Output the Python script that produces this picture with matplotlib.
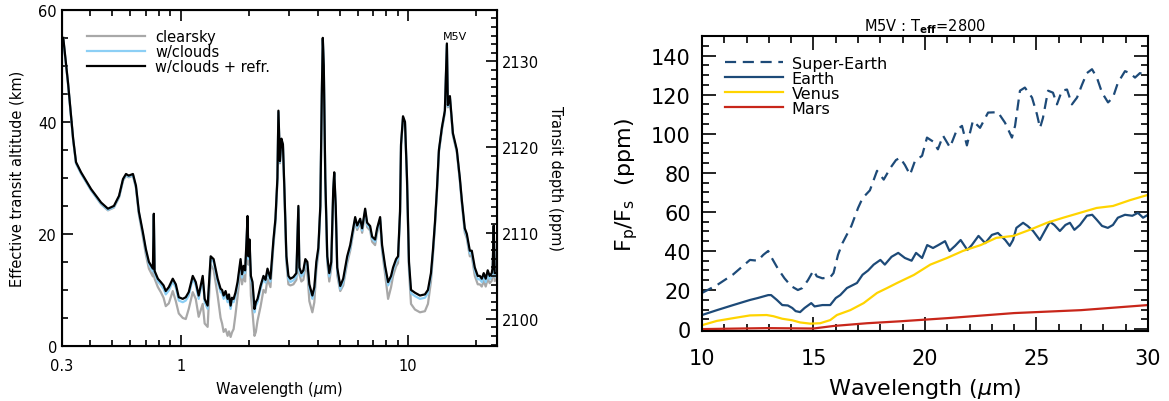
import matplotlib.pyplot as plt
from matplotlib.ticker import MultipleLocator, FixedLocator, FixedFormatter, NullFormatter

plt.rcParams['font.family'] = 'DejaVu Sans'
plt.rcParams['mathtext.fontset'] = 'dejavusans'

# ---- left panel: effective transit altitude (km) vs wavelength (um)
wl_um = [0.304, 0.319, 0.336, 0.346, 0.364, 0.403, 0.446, 0.478, 0.508, 0.535,
         0.557, 0.574, 0.590, 0.616, 0.635, 0.654, 0.681, 0.702, 0.724, 0.754,
         0.761, 0.767, 0.793, 0.817, 0.840, 0.859, 0.886, 0.922, 0.951, 0.980,
         1.020, 1.052, 1.084, 1.129, 1.164, 1.199, 1.249, 1.274, 1.313, 1.354,
         1.395, 1.453, 1.497, 1.520, 1.544, 1.575, 1.607, 1.630, 1.657, 1.680,
         1.708, 1.740, 1.778, 1.833, 1.860, 1.889, 1.920, 1.948, 1.967, 1.985,
         2.007, 2.035, 2.069, 2.111, 2.140, 2.177, 2.244, 2.312, 2.360, 2.408,
         2.481, 2.558, 2.610, 2.663, 2.690, 2.731, 2.773, 2.816, 2.858, 2.917,
         2.977, 3.038, 3.131, 3.227, 3.293, 3.326, 3.394, 3.463, 3.534, 3.606,
         3.680, 3.794, 3.871, 3.950, 4.031, 4.113, 4.176, 4.217, 4.260, 4.325,
         4.413, 4.503, 4.595, 4.689, 4.736, 4.808, 4.882, 5.033, 5.187, 5.293,
         5.401, 5.568, 5.682, 5.855, 5.975, 6.159, 6.284, 6.478, 6.611, 6.814,
         6.953, 7.167, 7.313, 7.539, 7.691, 7.929, 8.173, 8.424, 8.597, 8.862,
         9.042, 9.225, 9.318, 9.508, 9.701, 9.899, 10.10, 10.31, 10.73, 11.29,
         11.87, 12.24, 12.62, 12.87, 13.14, 13.41, 13.68, 14.10, 14.53, 14.83,
         14.98, 15.29, 15.76, 16.40, 16.91, 17.26, 17.78, 18.15, 18.71, 19.09,
         19.68, 20.28, 20.70, 21.12, 21.54, 21.98, 22.43, 22.89, 23.36, 23.59,
         23.83, 24.07, 24.57]

alt_refr = [55.0, 47.0, 37.0, 32.8, 31.0, 28.0, 25.6, 24.5, 25.0, 26.8,
            29.8, 30.7, 30.4, 30.7, 28.6, 24.0, 20.3, 17.3, 15.0, 13.8,
            23.6, 13.4, 12.0, 11.4, 10.8, 9.8, 10.5, 12.0, 11.0, 8.7,
            8.4, 8.7, 9.6, 12.5, 11.4, 9.0, 12.5, 8.4, 7.2, 16.0,
            15.5, 12.0, 10.2, 10.0, 9.0, 9.8, 8.4, 9.2, 7.2, 8.6,
            8.4, 9.5, 11.4, 15.5, 12.8, 14.3, 13.5, 19.0, 23.2, 16.0,
            19.0, 12.5, 11.4, 6.6, 7.8, 8.4, 10.7, 12.5, 11.8, 13.8,
            12.0, 19.0, 22.7, 30.0, 42.0, 33.0, 37.0, 36.0, 28.0, 16.0,
            12.5, 12.0, 12.3, 13.0, 25.0, 14.0, 13.0, 13.5, 15.5, 15.0,
            11.0, 9.0, 10.5, 15.0, 17.5, 25.0, 45.0, 55.0, 50.0, 30.0,
            16.0, 13.0, 15.0, 28.0, 31.0, 25.0, 14.0, 10.7, 12.0, 14.0,
            16.0, 18.0, 20.0, 23.0, 21.5, 22.7, 21.0, 24.5, 22.0, 21.4,
            19.5, 19.0, 21.0, 23.0, 18.0, 14.3, 11.4, 12.5, 14.0, 15.5,
            16.0, 24.0, 36.0, 41.0, 40.0, 30.0, 15.0, 10.0, 9.5, 9.0,
            9.2, 10.0, 13.0, 17.0, 22.0, 28.0, 35.0, 39.0, 42.0, 54.0,
            43.0, 44.6, 38.0, 35.0, 30.0, 26.0, 21.0, 20.0, 17.0, 17.0,
            14.0, 12.5, 12.5, 12.0, 13.0, 12.0, 13.5, 12.5, 13.0, 14.0,
            21.5, 13.0, 13.0]

alt_clouds = [54.8, 46.8, 36.8, 32.6, 30.8, 27.8, 25.4, 24.3, 24.8, 26.6,
              29.6, 30.5, 30.2, 30.5, 28.4, 23.8, 20.0, 17.0, 14.6, 13.3,
              23.4, 13.0, 11.5, 10.9, 10.2, 9.2, 9.9, 11.5, 10.4, 8.1,
              7.8, 8.1, 9.0, 12.0, 10.8, 8.4, 11.9, 7.8, 6.6, 15.6,
              15.0, 11.4, 9.6, 9.4, 8.4, 9.2, 7.8, 8.6, 6.6, 8.0,
              7.8, 8.9, 10.8, 15.0, 12.2, 13.8, 13.0, 18.6, 22.9, 15.5,
              18.6, 11.9, 10.8, 6.0, 7.2, 7.8, 10.1, 12.0, 11.3, 13.3,
              11.5, 18.6, 22.4, 29.7, 41.8, 32.8, 36.8, 35.8, 27.7, 15.5,
              11.9, 11.4, 11.7, 12.4, 24.7, 13.5, 12.4, 12.9, 15.0, 14.4,
              10.4, 8.4, 9.9, 14.5, 17.0, 24.7, 44.8, 54.8, 49.8, 29.7,
              15.5, 12.4, 14.5, 27.7, 30.8, 24.7, 13.5, 10.1, 11.4, 13.5,
              15.5, 17.5, 19.6, 22.7, 21.1, 22.4, 20.6, 24.2, 21.6, 21.0,
              19.1, 18.6, 20.6, 22.7, 17.5, 13.8, 10.8, 12.0, 13.5, 15.0,
              15.5, 23.7, 35.8, 40.8, 39.8, 29.7, 14.5, 9.4, 8.9, 8.4,
              8.6, 9.4, 12.5, 16.6, 21.7, 27.7, 34.8, 38.8, 41.8, 53.8,
              42.8, 44.4, 37.8, 34.8, 29.7, 25.7, 20.6, 19.6, 16.5, 16.5,
              13.4, 11.9, 11.9, 11.4, 12.4, 11.4, 12.9, 11.9, 12.4, 13.4,
              21.2, 12.4, 12.4]

alt_clear = [54.8, 46.8, 36.8, 32.6, 30.8, 27.8, 25.3, 24.2, 24.7, 26.5,
             29.5, 30.4, 30.1, 30.4, 28.2, 23.5, 19.5, 16.3, 13.8, 12.4,
             23.2, 12.0, 10.5, 9.6, 8.6, 7.1, 7.6, 9.8, 8.0, 5.8,
             5.0, 4.8, 6.6, 9.6, 8.4, 5.2, 7.5, 4.0, 3.4, 14.5,
             13.6, 9.0, 5.0, 4.0, 2.5, 3.0, 1.8, 2.6, 1.6, 2.4,
             3.0, 5.5, 8.8, 13.8, 11.0, 12.5, 11.5, 18.0, 22.5, 14.5,
             17.8, 9.0, 6.0, 1.8, 2.5, 4.5, 7.0, 10.0, 9.5, 12.0,
             10.5, 18.0, 22.0, 29.5, 41.7, 32.6, 36.6, 35.6, 27.4, 14.8,
             11.0, 10.8, 11.0, 11.8, 24.4, 12.8, 11.5, 11.8, 14.0, 13.2,
             8.0, 6.0, 7.8, 13.5, 16.5, 24.4, 44.7, 54.7, 49.7, 29.5,
             14.8, 11.5, 13.8, 27.4, 30.6, 24.4, 12.6, 9.8, 10.8, 12.8,
             14.8, 17.0, 19.1, 22.3, 20.7, 22.0, 20.2, 23.8, 21.2, 20.6,
             18.6, 18.0, 20.2, 22.3, 17.0, 12.8, 8.4, 10.5, 12.5, 14.2,
             14.8, 23.4, 35.6, 40.6, 39.6, 29.4, 13.5, 7.5, 6.5, 6.0,
             6.2, 7.5, 11.5, 16.0, 21.3, 27.5, 34.6, 38.6, 41.6, 53.7,
             42.6, 44.2, 37.6, 34.6, 29.5, 25.4, 20.2, 19.2, 16.0, 16.0,
             12.5, 11.0, 11.0, 10.6, 11.6, 10.6, 12.0, 11.2, 11.6, 12.6,
             21.0, 11.6, 11.8]

# ---- right panel: Fp/Fs (ppm) vs wavelength (um)
superearth_wl = [10.0, 10.67, 11.4, 12.15, 12.5, 12.75, 12.97, 13.1, 13.4, 13.7,
                 14.0, 14.3, 14.5, 14.75, 15.0, 15.15, 15.4, 15.75, 15.9, 16.1,
                 16.3, 16.7, 17.0, 17.2, 17.53, 17.85, 18.15, 18.45, 18.7, 18.88,
                 19.1, 19.33, 19.55, 19.87, 20.09, 20.36, 20.58, 20.81, 21.12, 21.43,
                 21.66, 21.88, 22.15, 22.47, 22.83, 23.27, 23.59, 23.9, 24.04, 24.26,
                 24.48, 24.8, 25.02, 25.16, 25.29, 25.52, 25.74, 25.92, 26.14, 26.37,
                 26.59, 26.82, 27.04, 27.26, 27.49, 27.71, 27.94, 28.21, 28.43, 28.65,
                 28.97, 29.19, 29.42, 29.64, 30.0]
superearth_ppm = [18.5, 22.5, 28.0, 35.4, 35.0, 38.0, 40.0, 37.0, 31.0, 26.0,
                  22.0, 20.0, 21.0, 25.0, 30.0, 27.0, 26.0, 26.5, 28.7, 38.0,
                  44.0, 52.8, 62.0, 67.0, 71.0, 81.0, 76.5, 82.5, 86.5, 87.7,
                  84.0, 79.0, 86.0, 88.7, 98.0, 96.0, 92.0, 99.0, 93.0, 102.0,
                  104.0, 94.0, 106.6, 103.0, 110.8, 111.0, 105.6, 98.0, 104.0, 122.0,
                  123.6, 118.5, 110.0, 103.0, 108.0, 122.0, 121.0, 115.0, 122.0, 122.6,
                  115.0, 118.5, 125.0, 131.0, 133.0, 128.7, 121.0, 116.0, 118.5, 126.0,
                  132.0, 131.0, 128.7, 131.0, 129.7]

earth_wl = [10.0, 10.67, 11.4, 12.15, 12.5, 12.97, 13.1, 13.35, 13.6, 13.85,
            14.05, 14.2, 14.4, 14.6, 14.9, 15.05, 15.4, 15.75, 16.0, 16.2,
            16.5, 16.95, 17.2, 17.45, 17.7, 18.0, 18.2, 18.5, 18.8, 19.1,
            19.4, 19.6, 19.87, 20.1, 20.36, 20.6, 20.9, 21.1, 21.35, 21.6,
            21.9, 22.1, 22.4, 22.7, 23.0, 23.27, 23.6, 23.8, 23.95, 24.1,
            24.4, 24.6, 24.85, 25.15, 25.4, 25.6, 25.8, 26.05, 26.3, 26.5,
            26.7, 26.95, 27.26, 27.5, 27.7, 27.94, 28.2, 28.43, 28.65, 28.97,
            29.3, 29.55, 29.78, 30.0]
earth_ppm = [7.2, 9.7, 12.3, 14.9, 15.9, 17.4, 17.4, 15.0, 12.3, 12.1,
             10.8, 9.2, 8.7, 10.8, 13.3, 11.6, 12.3, 12.3, 15.9, 17.4,
             21.0, 23.6, 27.8, 30.0, 33.0, 35.4, 33.0, 37.0, 39.0, 36.4,
             35.0, 39.0, 36.4, 43.0, 41.5, 43.0, 45.0, 40.0, 42.6, 45.6,
             40.5, 43.0, 47.7, 44.0, 48.2, 49.2, 45.6, 42.6, 45.6, 51.8,
             54.4, 52.8, 50.2, 45.6, 50.8, 54.9, 53.3, 50.2, 53.3, 54.4,
             50.8, 53.3, 58.0, 58.5, 56.0, 52.8, 51.8, 53.3, 57.0, 58.5,
             58.0, 59.5, 57.0, 58.5]

venus_wl = [10.0, 10.67, 11.4, 12.15, 12.9, 13.2, 13.6, 14.05, 14.4, 14.85,
            15.3, 15.75, 16.05, 16.65, 17.25, 17.85, 18.3, 18.75, 19.5, 20.24,
            20.99, 21.7, 22.5, 23.2, 23.97, 24.7, 25.47, 26.2, 26.95, 27.7,
            28.43, 29.2, 30.0]
venus_ppm = [2.0, 4.2, 5.6, 7.0, 7.2, 6.6, 5.3, 4.5, 3.4, 2.8,
             3.0, 4.6, 7.2, 9.7, 13.3, 18.5, 21.0, 23.6, 27.7, 33.0,
             36.4, 40.0, 43.0, 46.7, 47.7, 50.8, 54.4, 57.0, 59.5, 62.0,
             63.0, 66.0, 68.7]

mars_wl = [10.0, 12.9, 15.0, 15.9, 17.4, 18.9, 21.0, 24.0, 27.0, 30.0]
mars_ppm = [0.0, 0.5, 0.3, 1.6, 3.0, 4.0, 5.6, 8.2, 9.7, 12.3]

navy = '#1d4a78'

fig = plt.figure(figsize=(11.69, 4.02), dpi=100)

# ================= left panel =================
ax = fig.add_axes([0.053, 0.137, 0.372, 0.836])
ax.plot(wl_um, alt_clear, color='#a8a8a8', lw=1.6, label='clearsky')
ax.plot(wl_um, alt_clouds, color='#8ccff5', lw=1.6, label='w/clouds')
ax.plot(wl_um, alt_refr, color='black', lw=1.6, label='w/clouds + refr.')
ax.set_xscale('log')
ax.set_xlim(0.3, 24.6)
ax.set_ylim(0, 60)
ax.xaxis.set_major_locator(FixedLocator([0.3, 1, 10]))
ax.xaxis.set_major_formatter(FixedFormatter(['0.3', '1', '10']))
ax.xaxis.set_minor_locator(FixedLocator([0.4, 0.5, 0.6, 0.7, 0.8, 0.9,
                                         2, 3, 4, 5, 6, 7, 8, 9, 20]))
ax.xaxis.set_minor_formatter(NullFormatter())
ax.yaxis.set_major_locator(MultipleLocator(20))
ax.yaxis.set_minor_locator(MultipleLocator(5))
ax.tick_params(which='both', direction='in', top=True, right=False, labelsize=10.5)
ax.tick_params(which='major', length=8, width=1.2)
ax.tick_params(which='minor', length=4, width=1.2)
ax.tick_params(axis='x', which='major', pad=9)
for sp in ax.spines.values():
    sp.set_linewidth(1.5)
ax.set_xlabel(r'Wavelength ($\mu$m)', fontsize=10.5, labelpad=4)
ax.set_ylabel('Effective transit altitude (km)', fontsize=10.5, labelpad=10)
ax.text(0.903, 0.923, 'M5V', transform=ax.transAxes, fontsize=8, ha='center', va='center')
ax.legend(loc='upper left', bbox_to_anchor=(0.05, 0.951), frameon=False,
          fontsize=10.5, handlelength=4.0, handletextpad=0.7,
          labelspacing=0.0, borderpad=0.2, borderaxespad=0)

ax2 = ax.twinx()
ax2.set_ylim(2096.85, 2136.0)
ax2.yaxis.set_major_locator(MultipleLocator(10))
ax2.yaxis.set_minor_locator(MultipleLocator(1))
ax2.tick_params(which='both', direction='in', labelsize=10.5)
ax2.tick_params(which='major', length=8, width=1.2)
ax2.tick_params(which='minor', length=4, width=1.2)
ax2.set_ylabel('Transit depth (ppm)', fontsize=10.5, rotation=270, labelpad=17)

# ================= right panel =================
bx = fig.add_axes([0.6005, 0.174, 0.3815, 0.734])
bx.plot(superearth_wl, superearth_ppm, color=navy, lw=1.6, dashes=(5, 3), label='Super-Earth')
bx.plot(earth_wl, earth_ppm, color=navy, lw=1.6, label='Earth')
bx.plot(venus_wl, venus_ppm, color='#ffd400', lw=1.6, label='Venus')
bx.plot(mars_wl, mars_ppm, color='#c8261a', lw=1.6, label='Mars')
bx.set_xlim(10, 30)
bx.set_ylim(-1, 150)
bx.xaxis.set_major_locator(MultipleLocator(5))
bx.xaxis.set_minor_locator(MultipleLocator(1))
bx.yaxis.set_major_locator(MultipleLocator(20))
bx.yaxis.set_minor_locator(MultipleLocator(5))
bx.tick_params(which='both', direction='in', top=True, right=True, labelsize=15)
bx.tick_params(which='major', length=10, width=1.2, pad=8)
bx.tick_params(which='minor', length=5, width=1.2)
bx.tick_params(axis='x', which='major', pad=12)
for sp in bx.spines.values():
    sp.set_linewidth(1.5)
bx.set_xlabel(r'Wavelength ($\mu$m)', fontsize=16, labelpad=6)
bx.set_ylabel(r'F$_\mathrm{p}$/F$_\mathrm{s}$  (ppm)', fontsize=16, labelpad=8)
bx.set_title(r'M5V : T$_\mathbf{eff}$=2800', fontsize=10.5, pad=4)
bx.legend(loc='upper left', bbox_to_anchor=(0.045, 0.943), frameon=False,
          fontsize=11.5, handlelength=3.6, handletextpad=0.55,
          labelspacing=0.0, borderpad=0.2, borderaxespad=0)

fig.savefig('out.png', dpi=100)
